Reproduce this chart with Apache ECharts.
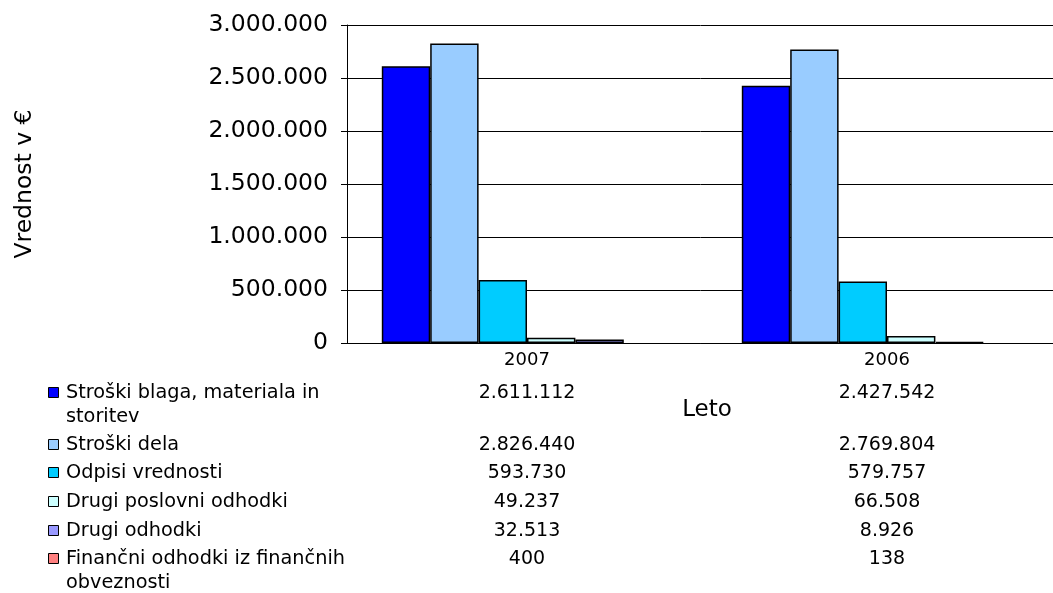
<!DOCTYPE html>
<html>
<head>
<meta charset="utf-8">
<script src="https://cdn.jsdelivr.net/npm/echarts@6/dist/echarts.min.js"></script>
<style>
  html, body { margin: 0; padding: 0; background: #fff; }
  #chart { width: 1053px; height: 593px; }
</style>
</head>
<body>
<div id="chart"></div>
<script>
// Expense categories per year (values in EUR)
const years = ['2007', '2006'];
const seriesNames = [
  'Stroški blaga, materiala in storitev',
  'Stroški dela',
  'Odpisi vrednosti',
  'Drugi poslovni odhodki',
  'Drugi odhodki',
  'Finančni odhodki iz finančnih obveznosti'
];
const blagaMaterial = [2611112, 2427542];
const delo = [2826440, 2769804];
const odpisi = [593730, 579757];
const drugiPoslovni = [49237, 66508];
const drugiOdhodki = [32513, 8926];
const financni = [400, 138];
const seriesValues = [blagaMaterial, delo, odpisi, drugiPoslovni, drugiOdhodki, financni];
const seriesColors = ['#0000FF', '#99CCFF', '#00CCFF', '#CCFFFF', '#9999FF', '#FF8080'];

const FONT = 'DejaVu Sans, Verdana, sans-serif';
const Y_MAX = 3000000;

function fmt(v) {
  return String(v).replace(/\B(?=(\d{3})+(?!\d))/g, '.');
}

// Word-wrap a label to a maximum pixel width
const measureCtx = document.createElement('canvas').getContext('2d');
function wrap(text, font, maxWidth) {
  measureCtx.font = font;
  const words = text.split(' ');
  const lines = [];
  let line = '';
  words.forEach(w => {
    const test = line ? line + ' ' + w : w;
    if (line && measureCtx.measureText(test).width > maxWidth) {
      lines.push(line);
      line = w;
    } else {
      line = test;
    }
  });
  if (line) lines.push(line);
  return lines.join('\n');
}

const chart = echarts.init(document.getElementById('chart'), null, { renderer: 'canvas' });

chart.setOption({
  animation: false,
  backgroundColor: '#ffffff',
  grid: {
    left: 347, top: 25, width: 720, bottom: 250,
    containLabel: false, outerBoundsMode: 'none'
  },
  xAxis: {
    type: 'category',
    data: years,
    name: 'Leto',
    nameLocation: 'middle',
    nameGap: 56,
    nameTextStyle: { fontFamily: FONT, fontSize: 23, color: '#000' },
    axisLine: { lineStyle: { color: '#000', width: 1 } },
    axisTick: { show: false },
    axisLabel: { fontFamily: FONT, fontSize: 18, color: '#000', margin: 8 }
  },
  yAxis: {
    type: 'value',
    min: 0,
    max: Y_MAX,
    interval: 500000,
    name: 'Vrednost v €',
    nameLocation: 'middle',
    nameGap: 310,
    nameRotate: 90,
    nameTextStyle: { fontFamily: FONT, fontSize: 23.5, color: '#000' },
    axisLine: { show: true, lineStyle: { color: '#000', width: 1 } },
    axisTick: { show: true, length: 6, lineStyle: { color: '#000' } },
    splitLine: { lineStyle: { color: '#000', width: 1 } },
    axisLabel: {
      fontFamily: FONT, fontSize: 23.5, color: '#000', margin: 19,
      formatter: fmt
    }
  },
  series: seriesNames.map((name, i) => ({
    name: name,
    type: 'bar',
    // bars thinner than a pixel are not outlined
    data: seriesValues[i].map(v => ({
      value: v,
      itemStyle: v < Y_MAX / 1000 ? { borderWidth: 0 } : undefined
    })),
    barGap: '0%',
    barWidth: 48.4,
    itemStyle: { color: seriesColors[i], borderColor: '#000', borderWidth: 1.5 }
  }))
});

// Data table below the plot: legend keys, series names and values per year
const rowCenters = [393, 445, 473, 502, 531, 559];
const labelFont = '19.3px ' + FONT;
const graphics = [];
seriesNames.forEach((name, i) => {
  const cy = rowCenters[i];
  graphics.push({
    type: 'rect',
    shape: { x: 48.5, y: cy - 5.5, width: 10, height: 10 },
    style: { fill: seriesColors[i], stroke: '#000', lineWidth: 1 }
  });
  graphics.push({
    type: 'text',
    style: {
      x: 66, y: cy - 12,
      text: wrap(name, labelFont, 290),
      lineHeight: 24,
      font: labelFont,
      fill: '#000',
      textVerticalAlign: 'top'
    }
  });
  years.forEach((yr, j) => {
    const px = chart.convertToPixel({ xAxisIndex: 0 }, yr);
    graphics.push({
      type: 'text',
      style: {
        x: px, y: cy,
        text: fmt(seriesValues[i][j]),
        font: '19px ' + FONT,
        fill: '#000',
        textAlign: 'center',
        textVerticalAlign: 'middle'
      }
    });
  });
});
chart.setOption({ graphic: graphics });
</script>
</body>
</html>
